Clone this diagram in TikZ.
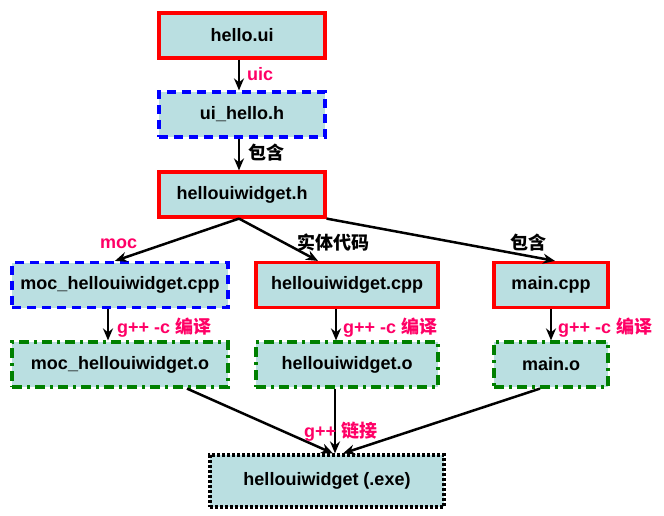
\documentclass[tikz,border=0pt]{standalone}
\usepackage{fontspec}
\setmainfont{Liberation Sans}
\newfontfamily\cjk{Noto Sans CJK SC}
\usetikzlibrary{arrows.meta}

\definecolor{boxfill}{HTML}{BADFE1}
\definecolor{lblred}{HTML}{FF0066}
\definecolor{dkgreen}{HTML}{008000}

\tikzset{
  file/.style={fill=boxfill, line width=3.2pt, inner sep=0pt,
    minimum height=45, font=\fontsize{18}{20}\selectfont\bfseries},
  srcbox/.style={file, draw=red},
  genbox/.style={file, draw=blue, dash pattern=on 9pt off 6pt},
  objbox/.style={file, draw=dkgreen, dash pattern=on 10pt off 5pt on 3pt off 5pt},
  exebox/.style={file, draw=black, dash pattern=on 3pt off 2pt, minimum height=52},
  flow/.style={line width=2.5pt, -{Stealth[length=12pt,width=10pt]}},
  step label/.style={font=\fontsize{18}{20}\selectfont\bfseries, inner sep=0pt},
}

\begin{document}
\begin{tikzpicture}[x=1pt,y=-1pt]
\useasboundingbox (0,0) rectangle (664,516);
% top column
\node[srcbox, minimum width=166] (helloui) at (242,35.5) {hello.ui};
\node[genbox, minimum width=166] (uihello) at (242,114.5) {ui\_hello.h};
\node[srcbox, minimum width=166] (widgeth) at (242,194.5) {hellouiwidget.h};
% sources
\node[genbox, minimum width=216] (moccpp) at (120,285) {moc\_hellouiwidget.cpp};
\node[srcbox, minimum width=182] (widgetcpp) at (347,285) {hellouiwidget.cpp};
\node[srcbox, minimum width=114] (maincpp) at (551,285) {main.cpp};
% objects
\node[objbox, minimum width=216] (moco) at (120,364.5) {moc\_hellouiwidget.o};
\node[objbox, minimum width=182] (widgeto) at (347,364.5) {hellouiwidget.o};
\node[objbox, minimum width=114] (maino) at (551,364.5) {main.o};
\node[exebox, minimum width=234] (exe) at (327,481) {hellouiwidget (.exe)};

\draw[flow] ([xshift=-3]helloui.south) -- ([xshift=-3]uihello.north);
\draw[flow] ([xshift=-3]uihello.south) -- ([xshift=-3]widgeth.north);
\draw[flow] ([xshift=-3]widgeth.south) -- ([xshift=-5]moccpp.north);
\draw[flow] ([xshift=-3]widgeth.south) -- ([xshift=-29]widgetcpp.north);
\draw[flow] (widgeth.south east) -- ([xshift=4]maincpp.north);
\draw[flow] ([xshift=-12]moccpp.south) -- ([xshift=-12]moco.north);
\draw[flow] ([xshift=-11]widgetcpp.south) -- ([xshift=-11]widgeto.north);
\draw[flow] (maincpp.south) -- (maino.north);
\draw[flow] ([xshift=67]moco.south) -- ([xshift=6]exe.north);
\draw[flow] ([xshift=-12]widgeto.south) -- ([xshift=8]exe.north);
\draw[flow] ([xshift=-11]maino.south) -- ([xshift=16]exe.north);

\node[step label, lblred, anchor=west] (uiclbl) at (247,74) {uic};
\node[step label, anchor=west] (inclbl) at (248,153) {\cjk 包含};
\node[step label, lblred, anchor=west] (moclbl) at (100,244) {moc};
\node[step label, anchor=west] (impllbl) at (297,243) {\cjk 实体代码};
\node[step label, anchor=west] (mainlbl) at (510,243) {\cjk 包含};
\node[step label, lblred, anchor=west] (ccmoc) at (117,328) {g++ -c \cjk 编译};
\node[step label, lblred, anchor=west] (ccwidget) at (343,328) {g++ -c \cjk 编译};
\node[step label, lblred, anchor=west] (ccmain) at (558,328) {g++ -c \cjk 编译};
\node[step label, lblred, anchor=west] (linklbl) at (304,432) {g++ \cjk 链接};
\end{tikzpicture}
\end{document}
